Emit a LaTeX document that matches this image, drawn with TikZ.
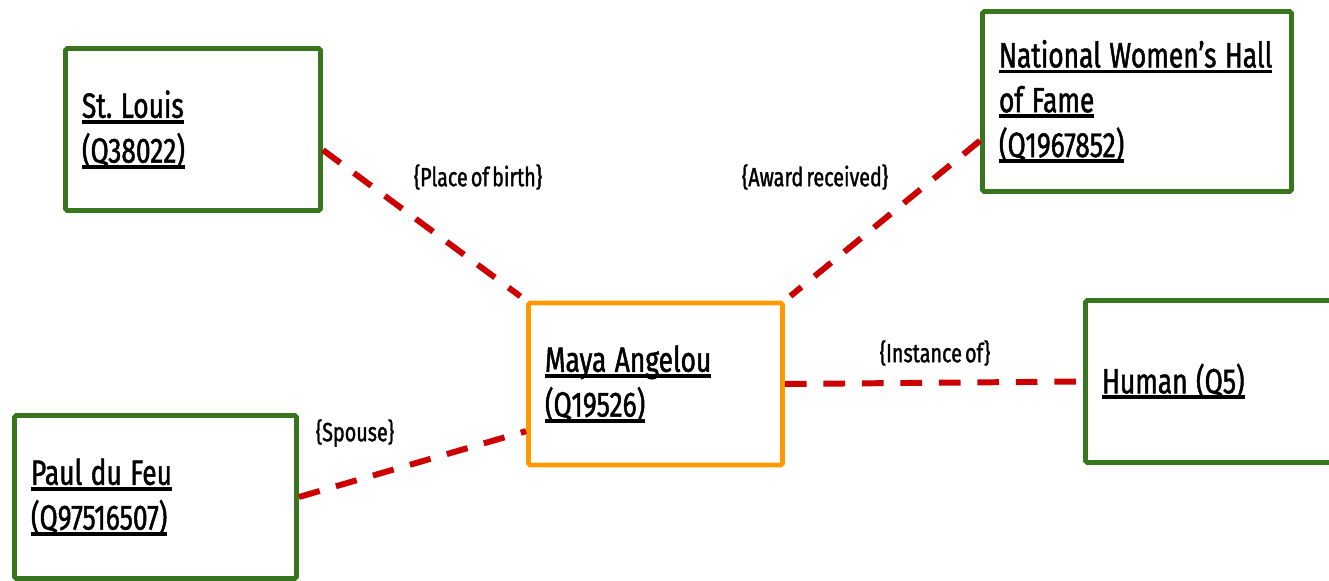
\documentclass[tikz,border=0pt]{standalone}
\usepackage{fontspec}
\setmainfont[FakeStretch=0.75, FakeBold=1.3, WordSpace=0.6]{Fira Sans}
\usepackage{tikz}
\usetikzlibrary{calc}
\definecolor{itemgreen}{HTML}{38761D}
\definecolor{mainorange}{HTML}{FF9900}
\definecolor{linkred}{HTML}{CC0000}
\newcommand{\qline}[1]{\leavevmode\setbox0\hbox{#1}\rlap{\rule[-3.4pt]{\wd0}{2.2pt}}\box0}
\tikzset{
	item/.style={draw=itemgreen, line width=2.8pt, rounded corners=1pt, rectangle, align=left, inner xsep=0.33cm, font=\fontsize{20}{25.5}\selectfont, execute at begin node={\frenchspacing\spaceskip=0.24em\xspaceskip=0.24em}},
	center item/.style={item, draw=mainorange},
	link/.style={draw=linkred, line width=3.4pt, dash pattern=on 12.3pt off 9.6pt},
	linklabel/.style={font=\fontsize{15}{17}\selectfont}
}

\begin{document}
\begin{tikzpicture}
		%%%%% START %%%%%
		
		\clip (0, 0) rectangle (26.58, 11.6);
		
		\node[center item, minimum width=5.08cm, minimum height=3.24cm, text width=4.42cm] (maya) at (13.11, 3.92) {\qline{Maya Angelou}\\\qline{(Q19526)}};
		
		\node[item, minimum width=5.1cm, minimum height=3.24cm, text width=4.44cm] (stlouis) at (3.86, 9.01) {\qline{St. Louis}\\\qline{(Q38022)}};
		\node[item, minimum width=6.18cm, minimum height=3.6cm, text width=5.52cm] (nwhf) at (22.74, 9.57) {\qline{National Women’s Hall}\\\qline{of Fame}\\\qline{(Q1967852)}};
		\node[item, minimum width=5.9cm, minimum height=3.24cm, text width=5.24cm] (human) at (24.66, 3.97) {\qline{Human (Q5)}};
		\node[item, minimum width=5.64cm, minimum height=3.26cm, text width=4.98cm] (paul) at (3.11, 1.66) {\qline{Paul du Feu}\\\qline{(Q97516507)}};
		
		\draw[link, shorten >=4pt] (stlouis.-9) -- (maya.north west);
		\draw[link, shorten >=4pt] (nwhf.194) -- (maya.north east);
		\draw[link] (maya.east) -- (human.west);
		\draw[link] (paul.east) -- (maya.200);
		
		\node[linklabel] (birth) at (9.56, 8.06) {\{Place of birth\}};
		\node[linklabel] (award) at (16.3, 8.06) {\{Award received\}};
		\node[linklabel] (instance) at (18.7, 4.54) {\{Instance of\}};
		\node[linklabel] (spouse) at (7.1, 2.94) {\{Spouse\}};
		
		%%%%% END %%%%%
	\end{tikzpicture}
\end{document}
